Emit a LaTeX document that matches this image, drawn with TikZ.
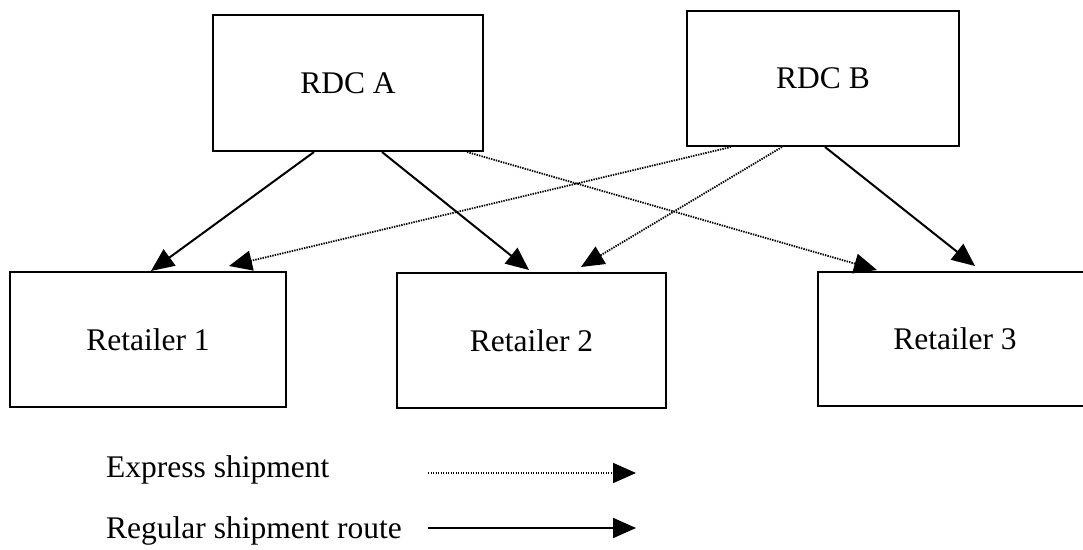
\documentclass[tikz,border=0pt]{standalone}
\usepackage{fontspec}
\setmainfont{Liberation Serif}
\usetikzlibrary{arrows.meta}
\begin{document}
\begin{tikzpicture}[x=1pt,y=-1pt,
  boxnode/.style={draw, line width=2pt, inner sep=0pt, font=\fontsize{31.5}{38}\selectfont},
  legendtext/.style={inner sep=0pt, font=\fontsize{31.5}{38}\selectfont},
  regular/.style={line width=2pt, -{Triangle[length=23pt,width=20pt]}},
  express/.style={line width=1.8pt, dash pattern=on 1.4pt off 1.1pt, -{Triangle[length=23pt,width=20pt]}}]
\useasboundingbox (0,0) rectangle (1083,549);
\clip (0,0) rectangle (1083,549);
\fill[white] (0,0) rectangle (1083,549);
% boxes
\node[boxnode, minimum width=270pt, minimum height=136pt] (RA) at (348,83) {RDC A};
\node[boxnode, minimum width=272pt, minimum height=135pt] (RB) at (823,78.5) {RDC B};
\node[boxnode, minimum width=276pt, minimum height=135pt] (R1) at (148,339.5) {Retailer 1};
\node[boxnode, minimum width=269pt, minimum height=135pt] (R2) at (531.5,340.5) {Retailer 2};
\node[boxnode, minimum width=274pt, minimum height=134pt] (R3) at (955,339) {Retailer 3};
% regular shipments
\draw[regular] ([xshift=102pt]RA.south west) -- ([xshift=142pt]R1.north west);
\draw[regular] ([xshift=170pt]RA.south west) -- ([xshift=133pt,yshift=2pt]R2.north west);
\draw[regular] ([xshift=139pt]RB.south west) -- ([xshift=158pt,yshift=5pt]R3.north west);
% express shipments
\draw[express] ([xshift=255pt]RA.south west) -- ([xshift=60pt,yshift=1pt]R3.north west);
\draw[express] ([xshift=45pt]RB.south west) -- ([xshift=220pt,yshift=5pt]R1.north west);
\draw[express] ([xshift=96pt]RB.south west) -- ([xshift=185pt,yshift=5pt]R2.north west);
% legend
\node[legendtext, anchor=base west] (L1) at (106,477) {Express shipment};
\node[legendtext, anchor=base west] (L2) at (106,538) {Regular shipment route};
\coordinate (e1s) at (428,473);
\coordinate (e1t) at (636,473);
\coordinate (e2s) at (428,528);
\coordinate (e2t) at (636,528);
\draw[express] (e1s) -- (e1t);
\draw[regular] (e2s) -- (e2t);
\end{tikzpicture}
\end{document}
